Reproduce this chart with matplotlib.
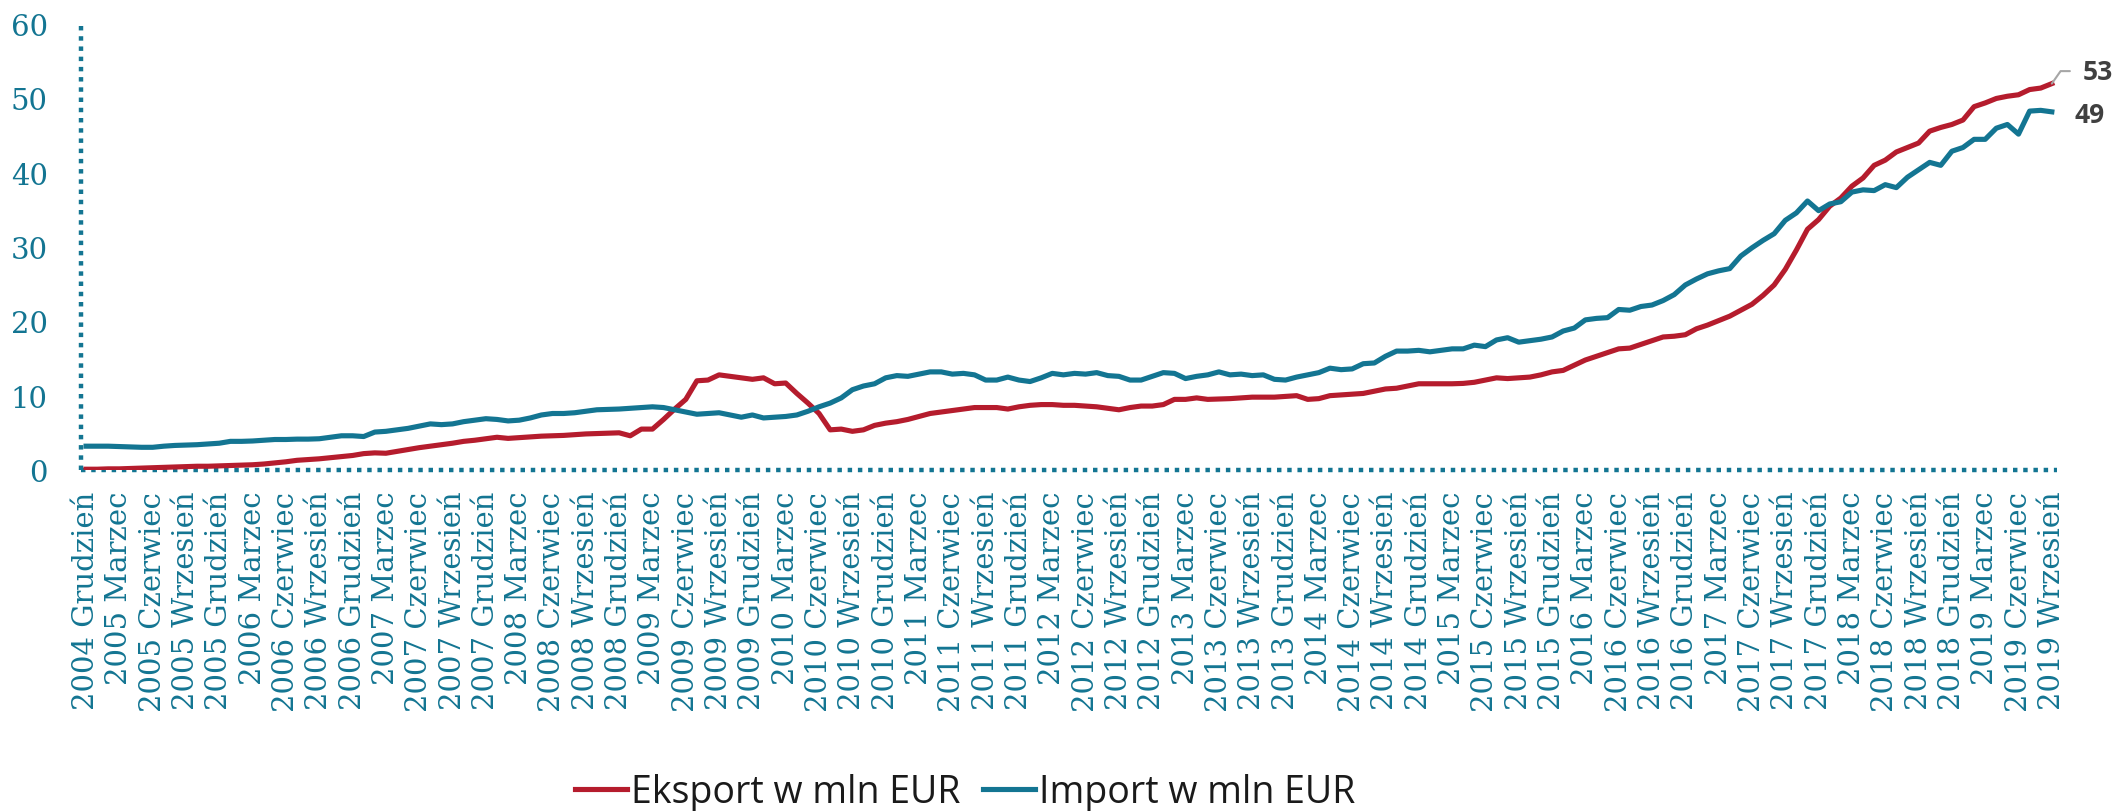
import numpy as np
import matplotlib
matplotlib.use("Agg")
import matplotlib.pyplot as plt
from matplotlib.lines import Line2D

# miesiace od 2004 Grudzien do 2019 Wrzesien
eksport = [
    0.1, 0.1, 0.15, 0.15, 0.2, 0.25, 0.3, 0.35, 0.4, 0.45, 0.5, 0.5, 0.55,
    0.6, 0.65, 0.7, 0.8, 0.95, 1.1, 1.3, 1.4, 1.5, 1.65, 1.8, 1.95,
    2.2, 2.3, 2.25, 2.5, 2.75, 3.0, 3.2, 3.4, 3.6, 3.85, 4.0, 4.2,
    4.4, 4.25, 4.35, 4.45, 4.55, 4.6, 4.65, 4.75, 4.85, 4.9, 4.95, 5.0,
    4.6, 5.5, 5.5, 6.8, 8.2, 9.5, 12.0, 12.1, 12.8, 12.6, 12.4, 12.2,
    12.4, 11.6, 11.7, 10.3, 9.0, 7.6, 5.4, 5.5, 5.2, 5.4, 6.0, 6.3,
    6.5, 6.8, 7.2, 7.6, 7.8, 8.0, 8.2, 8.4, 8.4, 8.4, 8.2, 8.5,
    8.7, 8.8, 8.8, 8.7, 8.7, 8.6, 8.5, 8.3, 8.1, 8.4, 8.6, 8.6,
    8.8, 9.5, 9.5, 9.7, 9.5, 9.55, 9.6, 9.7, 9.8, 9.8, 9.8, 9.9,
    10.0, 9.5, 9.6, 10.0, 10.1, 10.2, 10.3, 10.6, 10.9, 11.0, 11.3, 11.6,
    11.6, 11.6, 11.6, 11.65, 11.8, 12.1, 12.4, 12.3, 12.4, 12.5, 12.8, 13.2,
    13.4, 14.1, 14.8, 15.3, 15.8, 16.3, 16.4, 16.9, 17.4, 17.9, 18.0, 18.2,
    19.0, 19.5, 20.1, 20.7, 21.5, 22.3, 23.5, 24.9, 27.0, 29.6, 32.4, 33.7,
    35.5, 36.6, 38.2, 39.3, 41.0, 41.7, 42.8, 43.4, 44.0, 45.6, 46.1, 46.5,
    47.1, 48.9, 49.4, 50.0, 50.3, 50.5, 51.2, 51.4, 52.0,
]
import_ = [
    3.2, 3.2, 3.2, 3.15, 3.1, 3.05, 3.05, 3.2, 3.3, 3.35, 3.4, 3.5, 3.6,
    3.85, 3.85, 3.9, 4.0, 4.1, 4.1, 4.15, 4.15, 4.2, 4.4, 4.6, 4.6,
    4.5, 5.1, 5.2, 5.4, 5.6, 5.9, 6.2, 6.1, 6.2, 6.5, 6.7, 6.9,
    6.8, 6.6, 6.7, 7.0, 7.4, 7.6, 7.6, 7.7, 7.9, 8.1, 8.15, 8.2,
    8.3, 8.4, 8.5, 8.4, 8.1, 7.8, 7.5, 7.6, 7.7, 7.4, 7.1, 7.4,
    7.0, 7.1, 7.2, 7.4, 7.9, 8.5, 9.0, 9.7, 10.8, 11.3, 11.6, 12.4,
    12.7, 12.6, 12.9, 13.2, 13.2, 12.9, 13.0, 12.8, 12.1, 12.1, 12.5, 12.1,
    11.9, 12.4, 13.0, 12.8, 13.0, 12.9, 13.1, 12.7, 12.6, 12.1, 12.1, 12.6,
    13.1, 13.0, 12.3, 12.6, 12.8, 13.2, 12.8, 12.9, 12.7, 12.8, 12.2, 12.1,
    12.5, 12.8, 13.1, 13.7, 13.5, 13.6, 14.3, 14.4, 15.3, 16.0, 16.0, 16.1,
    15.9, 16.1, 16.3, 16.3, 16.8, 16.6, 17.5, 17.8, 17.2, 17.4, 17.6, 17.9,
    18.7, 19.1, 20.2, 20.4, 20.5, 21.6, 21.5, 22.0, 22.2, 22.8, 23.6, 24.9,
    25.7, 26.4, 26.8, 27.1, 28.8, 29.9, 30.9, 31.8, 33.6, 34.6, 36.2, 34.9,
    35.8, 36.1, 37.4, 37.7, 37.6, 38.4, 38.0, 39.4, 40.4, 41.4, 41.0, 42.9,
    43.4, 44.5, 44.5, 46.0, 46.5, 45.2, 48.3, 48.4, 48.2,
]

lata = list(range(2004, 2020))
miesiace = ["Marzec", "Czerwiec", "Wrzesień", "Grudzień"]
etykiety = ["2004 Grudzień"] + [f"{r} {m}" for r in lata[1:] for m in miesiace][:59]

wartosci_koncowe = ["53", "49"]

red = "#B51C2D"
teal = "#137592"

fig = plt.figure(figsize=(21.16, 8.12), dpi=100)
ax = fig.add_axes([0.0383, 0.42, 0.934, 0.549])

x = np.arange(len(eksport))
ax.plot(x, eksport, color=red, lw=3.7, zorder=3)
ax.plot(x, import_, color=teal, lw=3.7, zorder=3)

ax.set_xlim(-0.45, 177.5)
ax.set_ylim(0, 60)
ax.set_yticks(range(0, 61, 10))
ax.set_xticks(np.arange(0, len(eksport), 3))
ax.set_xticklabels(etykiety, rotation=90)

for s in ["top", "right"]:
    ax.spines[s].set_visible(False)
for s in ["left", "bottom"]:
    ax.spines[s].set_color(teal)
    ax.spines[s].set_linewidth(3.2)
    ax.spines[s].set_linestyle((0, (1, 1.3)))
    ax.spines[s].set_capstyle("butt")

ax.tick_params(axis="both", length=0, colors=teal, labelsize=21)
ax.tick_params(axis="x", pad=15)
ax.tick_params(axis="y", pad=24)
for lab in ax.get_xticklabels() + ax.get_yticklabels():
    lab.set_family("DejaVu Serif")

# etykiety koncowe
ax.annotate(wartosci_koncowe[0], xy=(x[-1], eksport[-1]), xytext=(22, 9),
            textcoords="offset points", ha="left", va="center",
            fontsize=19, fontweight="bold", color="#404040", family="Open Sans",
            arrowprops=dict(arrowstyle="-", color="#A6A6A6", lw=1.5,
                            connectionstyle="angle,angleA=0,angleB=55,rad=0",
                            shrinkA=7, shrinkB=0, relpos=(0, 0.5)))
ax.annotate(wartosci_koncowe[1], xy=(x[-1], import_[-1]), xytext=(16.5, -2),
            textcoords="offset points", ha="left", va="center",
            fontsize=19, fontweight="bold", color="#404040", family="Open Sans")

handles = [Line2D([], [], color=red, lw=3.7), Line2D([], [], color=teal, lw=3.7)]
fig.legend(handles, ["Eksport w mln EUR", "Import w mln EUR"],
           loc="center", bbox_to_anchor=(0.456, 0.0234), ncol=2, frameon=False,
           prop={"family": "Open Sans", "size": 27}, handlelength=1.4,
           handletextpad=0.1, columnspacing=0.6, labelcolor="#1a1a1a")

fig.savefig("out.png", dpi=100)
